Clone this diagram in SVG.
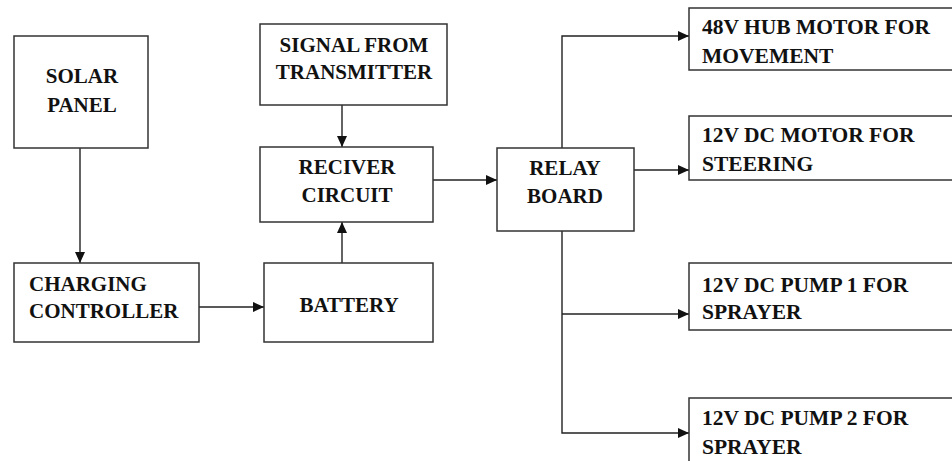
<svg xmlns="http://www.w3.org/2000/svg" width="952" height="461" viewBox="0 0 952 461">
<style>
.box{fill:#fff;stroke:#333;stroke-width:1.5}
text{font-family:'Liberation Serif','Times New Roman','DejaVu Serif',serif;font-weight:bold;font-size:21px;fill:#111}
.c{text-anchor:middle}
.w{font-size:21.5px}
.ln{fill:none;stroke:#222;stroke-width:1.4;marker-end:url(#ah)}
</style>
<defs>
<marker id="ah" markerUnits="userSpaceOnUse" markerWidth="12" markerHeight="10" refX="11" refY="5" orient="auto">
<path d="M0,0 L11,5 L0,10 Z" fill="#111"/>
</marker>
</defs>
<rect width="952" height="461" fill="#fff"/>
<g id="connectors">
<path class="ln" d="M80,148 V263"/>
<path class="ln" d="M342,105 V147"/>
<path class="ln" d="M342,263 V222"/>
<path class="ln" d="M199,307 H264"/>
<path class="ln" d="M433,180 H497"/>
<path class="ln" d="M562,148 V36 H689"/>
<path class="ln" d="M634,170 H689"/>
<path class="ln" d="M562,314 H689"/>
<path class="ln" d="M562,231 V433 H689"/>
</g>
<g id="solar">
<rect class="box" x="14" y="36" width="134" height="112"/>
<text class="c" x="82" y="83">SOLAR</text>
<text class="c" x="82" y="112">PANEL</text>
</g>
<g id="signal">
<rect class="box" x="260" y="24" width="187" height="81"/>
<text class="c" x="354" y="52">SIGNAL FROM</text>
<text class="c" x="354" y="79">TRANSMITTER</text>
</g>
<g id="receiver">
<rect class="box" x="260" y="147" width="173" height="75"/>
<text class="c" x="347" y="174">RECIVER</text>
<text class="c" x="347" y="202">CIRCUIT</text>
</g>
<g id="charging">
<rect class="box" x="14" y="263" width="185" height="79"/>
<text x="29" y="291">CHARGING</text>
<text x="29" y="318">CONTROLLER</text>
</g>
<g id="battery">
<rect class="box" x="264" y="263" width="169" height="79"/>
<text class="c" x="349" y="312">BATTERY</text>
</g>
<g id="relay">
<rect class="box" x="497" y="148" width="137" height="83"/>
<text class="c" x="565" y="175">RELAY</text>
<text class="c" x="565" y="203">BOARD</text>
</g>
<g id="hub">
<rect class="box" x="689" y="8" width="280" height="62"/>
<text class="w" x="702" y="34">48V HUB MOTOR FOR</text>
<text class="w" x="702" y="63">MOVEMENT</text>
</g>
<g id="steering">
<rect class="box" x="689" y="116" width="280" height="64"/>
<text class="w" x="702" y="142">12V DC MOTOR FOR</text>
<text class="w" x="702" y="171">STEERING</text>
</g>
<g id="pump1">
<rect class="box" x="689" y="263" width="280" height="67"/>
<text class="w" x="702" y="292">12V DC PUMP 1 FOR</text>
<text class="w" x="702" y="319">SPRAYER</text>
</g>
<g id="pump2">
<rect class="box" x="689" y="398" width="280" height="80"/>
<text class="w" x="702" y="425">12V DC PUMP 2 FOR</text>
<text class="w" x="702" y="454">SPRAYER</text>
</g>
</svg>
